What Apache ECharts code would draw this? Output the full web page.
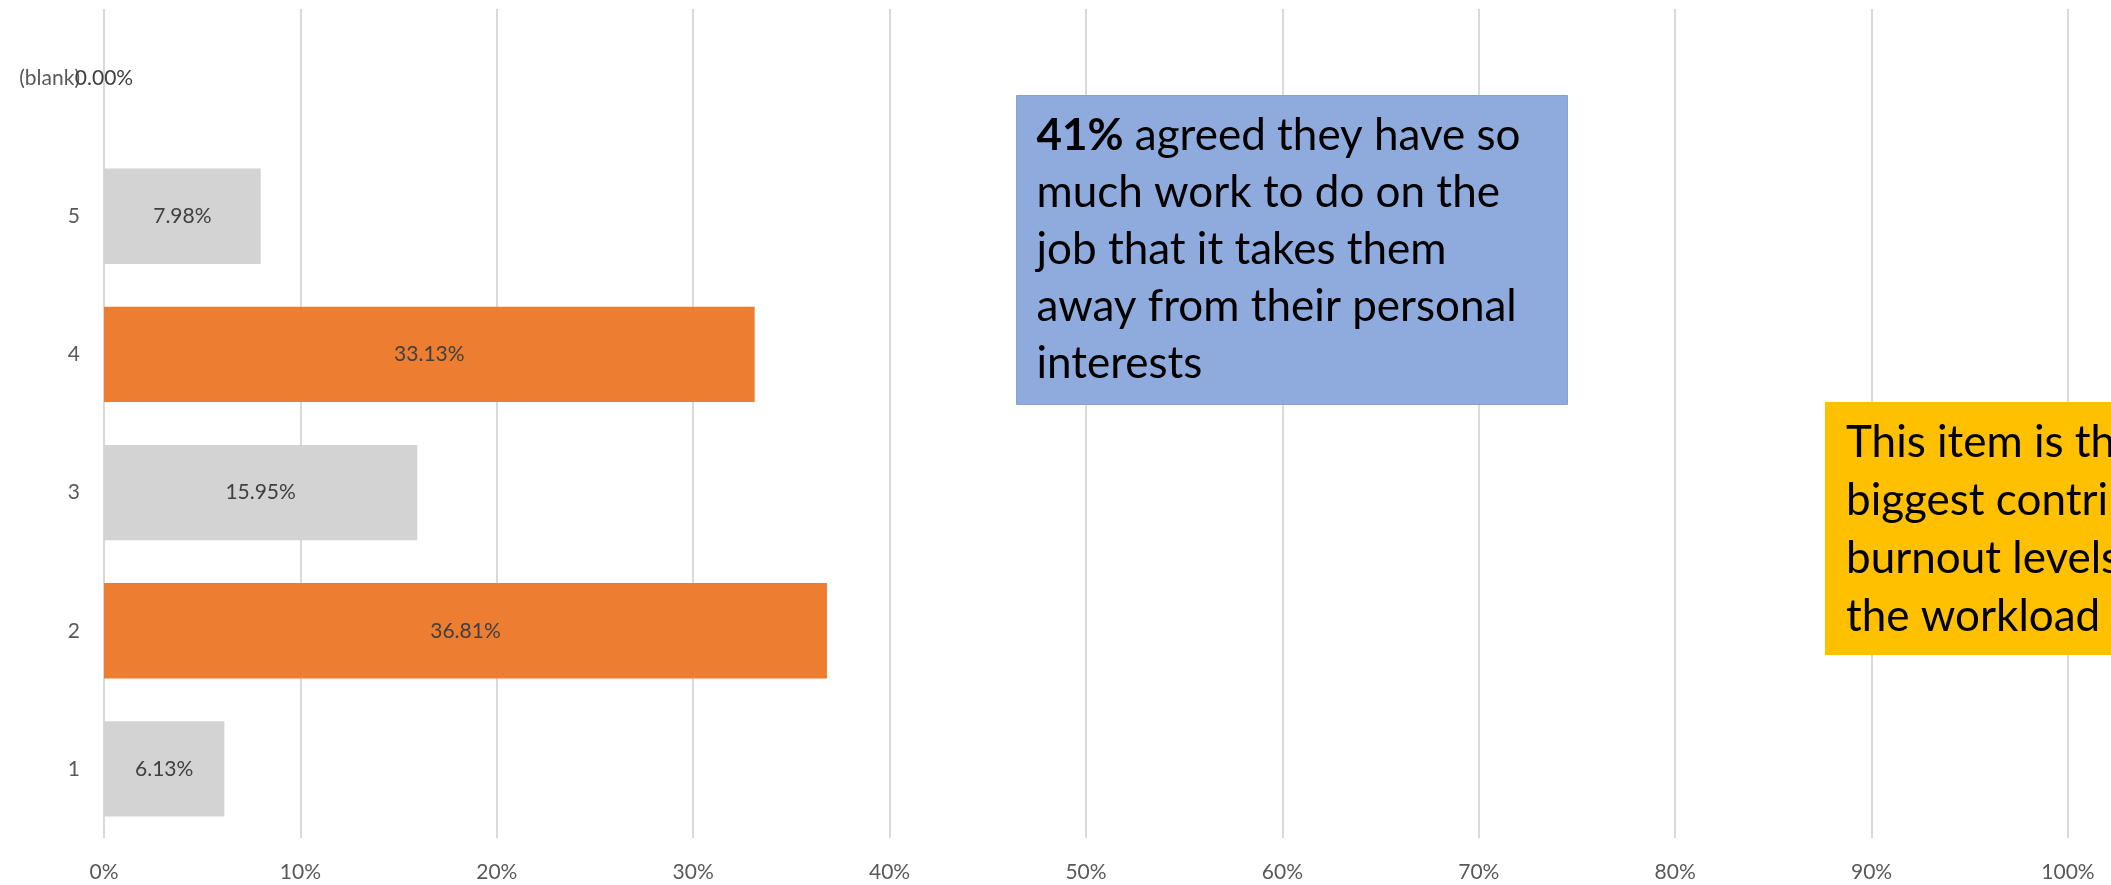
<!DOCTYPE html>
<html>
<head>
<meta charset="utf-8">
<script src="https://cdn.jsdelivr.net/npm/echarts@6/dist/echarts.min.js"></script>
<style>
  html, body { margin: 0; padding: 0; background: #fff; }
  #chart { width: 2111px; height: 885px; }
</style>
</head>
<body>
<div id="chart"></div>
<script>
// Response categories, bottom to top
const categories = ['1', '2', '3', '4', '5', '(blank)'];
// Share of responses per category (percent)
const shares = [6.13, 36.81, 15.95, 33.13, 7.98, 0.00];
// Categories counted as agreement
const agreeCategories = ['2', '4'];
// Axis tick settings
const axisMax = 100;
const axisStep = 10;

const noteBlue = [
  ['41%', ' agreed they have so'],
  ['', 'much work to do on the'],
  ['', 'job that it takes them'],
  ['', 'away from their personal'],
  ['', 'interests']
];
const noteYellow = [
  'This item is the',
  'biggest contributor to',
  'burnout levels \u2013',
  'the workload'
];

const FONT = 'Lato, "Open Sans", sans-serif';
const LABEL_SIZE = 21;
const NOTE_SIZE = 44;
const chart = echarts.init(document.getElementById('chart'), null, { renderer: 'canvas' });

const blueText = noteBlue.map(l => (l[0] ? '{b|' + l[0] + '}' : '') + '{n|' + l[1] + '}').join('\n');

chart.setOption({
  backgroundColor: '#ffffff',
  animation: false,
  grid: { left: 104, right: 43, top: 9, bottom: 47, containLabel: false },
  xAxis: {
    type: 'value',
    min: 0,
    max: axisMax,
    interval: axisStep,
    axisLine: { show: false },
    axisTick: { show: false },
    axisLabel: {
      formatter: '{value}%',
      color: '#595959',
      fontFamily: FONT,
      fontSize: LABEL_SIZE,
      margin: 24
    },
    splitLine: { show: true, lineStyle: { color: '#D9D9D9', width: 2 } }
  },
  yAxis: {
    type: 'category',
    data: categories,
    axisLine: { show: false },
    axisTick: { show: false },
    splitLine: { show: false },
    axisLabel: {
      color: '#595959',
      fontFamily: FONT,
      fontSize: LABEL_SIZE,
      margin: 24
    }
  },
  series: [{
    type: 'bar',
    data: shares,
    barCategoryGap: '31%',
    itemStyle: {
      color: p => agreeCategories.includes(categories[p.dataIndex]) ? '#ED7D31' : '#D3D3D3'
    },
    label: {
      show: true,
      position: 'inside',
      formatter: p => p.value.toFixed(2) + '%',
      color: '#404040',
      fontFamily: FONT,
      fontSize: LABEL_SIZE
    }
  }],
  graphic: [
    {
      type: 'group',
      left: 1016,
      top: 95,
      z: 100,
      children: [
        {
          type: 'rect',
          z: 100,
          shape: { x: 0, y: 0, width: 551, height: 309 },
          style: { fill: '#8FAADC', stroke: '#85A2D8', lineWidth: 1 }
        },
        {
          type: 'text',
          z: 101,
          x: 20,
          y: 12,
          style: {
            text: blueText,
            fontFamily: FONT,
            fontSize: NOTE_SIZE,
            lineHeight: 57,
            fill: '#000000',
            rich: {
              b: { fontFamily: FONT, fontSize: NOTE_SIZE, fontWeight: 'bold', lineHeight: 57, fill: '#000000' },
              n: { fontFamily: FONT, fontSize: NOTE_SIZE, lineHeight: 57, fill: '#000000' }
            }
          }
        }
      ]
    },
    {
      type: 'group',
      left: 1825,
      top: 402,
      z: 100,
      children: [
        {
          type: 'rect',
          z: 100,
          shape: { x: 0, y: 0, width: 420, height: 253 },
          style: { fill: '#FFC000' }
        },
        {
          type: 'text',
          z: 101,
          x: 21,
          y: 12,
          style: {
            text: noteYellow.join('\n'),
            fontFamily: FONT,
            fontSize: NOTE_SIZE,
            lineHeight: 58,
            fill: '#000000'
          }
        }
      ]
    }
  ]
});
</script>
</body>
</html>
